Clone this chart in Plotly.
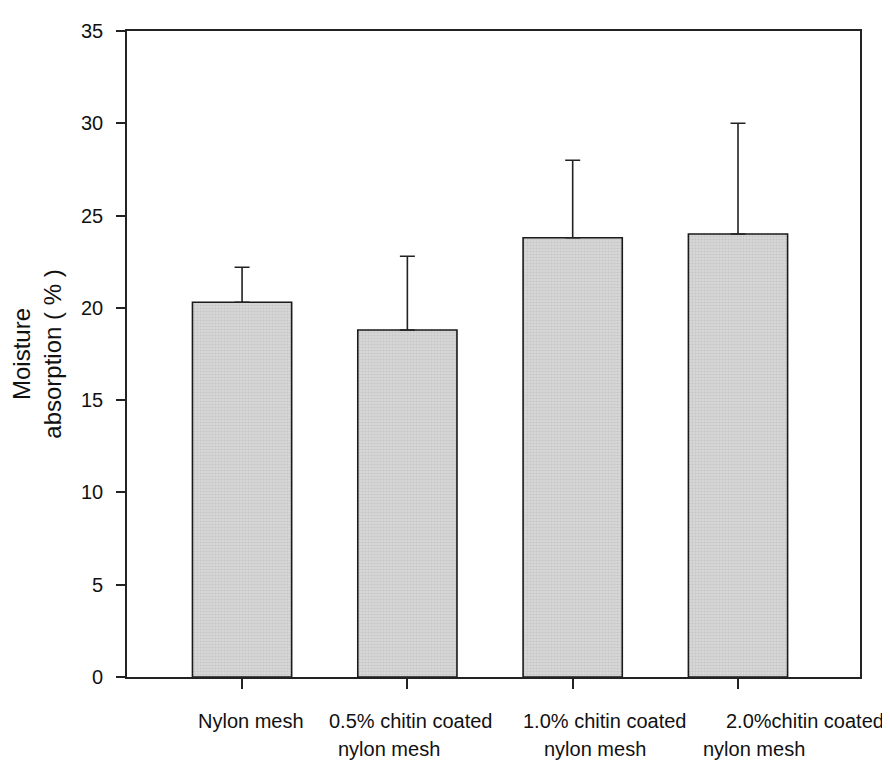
import plotly.graph_objects as go

# ---- data ----
categories = ["Nylon mesh", "0.5% chitin coated nylon mesh",
              "1.0% chitin coated nylon mesh", "2.0% chitin coated nylon mesh"]
label_line1 = ["Nylon mesh", "0.5% chitin coated", "1.0% chitin coated", "2.0%chitin coated"]
label_line2 = ["", "nylon mesh", "nylon mesh", "nylon mesh"]
moisture = [20.3, 18.8, 23.8, 24.0]
moisture_sd = [1.9, 4.0, 4.2, 6.0]
y_ticks = [0, 5, 10, 15, 20, 25, 30, 35]

# ---- layout helpers (pixel offsets of the category labels) ----
line1_shift = [-46, -80, -52, -14]
line2_shift = [0, -71, -31, -37]

x_idx = list(range(len(categories)))

fig = go.Figure()
fig.add_trace(go.Bar(
    x=x_idx,
    y=moisture,
    width=0.6,
    marker=dict(
        color="#d4d4d4",
        line=dict(color="#1a1a1a", width=1.6),
        pattern=dict(shape=".", size=3, solidity=0.35,
                     fgcolor="#b5b5b5", bgcolor="#d6d6d6"),
    ),
    error_y=dict(type="data", array=moisture_sd, arrayminus=[0] * len(moisture_sd),
                 symmetric=False, color="#222222", thickness=1.6, width=7.5),
    hoverinfo="skip",
    showlegend=False,
))

annotations = []
font_lab = dict(family="Liberation Sans, Arial", size=20, color="#111111")
for i in x_idx:
    annotations.append(dict(
        x=i, xref="x", y=0, yref="paper", text=label_line1[i],
        xanchor="left", yanchor="middle", xshift=line1_shift[i], yshift=-44,
        showarrow=False, font=font_lab))
    if label_line2[i]:
        annotations.append(dict(
            x=i, xref="x", y=0, yref="paper", text=label_line2[i],
            xanchor="left", yanchor="middle", xshift=line2_shift[i], yshift=-72,
            showarrow=False, font=font_lab))

fig.update_layout(
    width=882, height=753, autosize=False,
    margin=dict(l=113, r=30, t=20, b=84, pad=0),
    paper_bgcolor="white", plot_bgcolor="white",
    annotations=annotations,
    bargap=0.4,
)
fig.update_xaxes(
    range=[-0.696, 3.738],
    tickmode="array", tickvals=x_idx, showticklabels=False,
    ticks="outside", ticklen=10, tickwidth=1.5, tickcolor="#222222",
    showline=True, linecolor="#222222", linewidth=1.6, mirror=True,
    showgrid=False, zeroline=False,
)
fig.update_yaxes(
    range=[0, 35],
    tickmode="array", tickvals=y_ticks, ticktext=[str(t) for t in y_ticks],
    ticks="outside", ticklen=9, tickwidth=1.5, tickcolor="#222222",
    ticklabelstandoff=9,
    tickfont=dict(family="Liberation Sans, Arial", size=20, color="#111111"),
    showline=True, linecolor="#222222", linewidth=1.6, mirror=True,
    showgrid=False, zeroline=False,
    title=dict(text="Moisture<br>absorption ( % )", standoff=13,
               font=dict(family="Liberation Sans, Arial", size=24, color="#111111")),
)

fig.write_html("out.html")
